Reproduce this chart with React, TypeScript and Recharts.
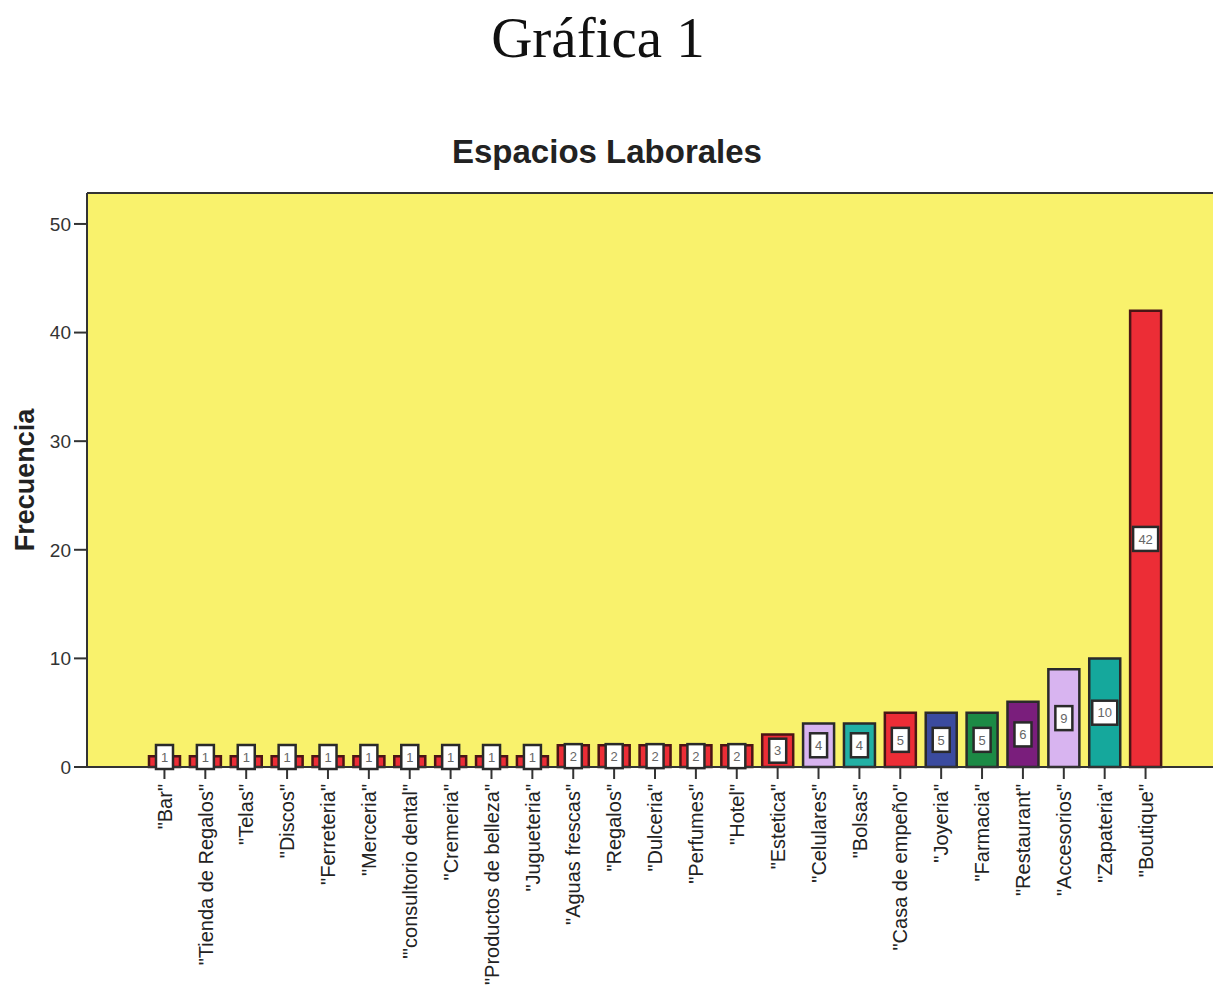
import { BarChart, Bar, XAxis, YAxis, Cell, CartesianGrid, LabelList, ReferenceLine } from "recharts";

const categories = [
  '"Bar"',
  '"Tienda de Regalos"',
  '"Telas"',
  '"Discos"',
  '"Ferreteria"',
  '"Merceria"',
  '"\'consultorio dental"',
  '"Cremeria"',
  '"Productos de belleza"',
  '"Jugueteria"',
  '"Aguas frescas"',
  '"Regalos"',
  '"Dulceria"',
  '"Perfumes"',
  '"Hotel"',
  '"Estetica"',
  '"Celulares"',
  '"Bolsas"',
  '"Casa de empeño"',
  '"Joyeria"',
  '"Farmacia"',
  '"Restaurant"',
  '"Accesorios"',
  '"Zapateria"',
  '"Boutique"',
];

const frequencies = [1, 1, 1, 1, 1, 1, 1, 1, 1, 1, 2, 2, 2, 2, 2, 3, 4, 4, 5, 5, 5, 6, 9, 10, 42];

const barColors = [
  "#ec2d36", "#ec2d36", "#ec2d36", "#ec2d36", "#ec2d36",
  "#ec2d36", "#ec2d36", "#ec2d36", "#ec2d36", "#ec2d36",
  "#ec2d36", "#ec2d36", "#ec2d36", "#ec2d36", "#ec2d36",
  "#ec2d36", "#d8b4f0", "#22b0a4", "#ec2d36", "#3b4b9f",
  "#1c8a45", "#7a1e7c", "#d8b4f0", "#15a89c", "#ec2d36",
];

const yTicks = [0, 10, 20, 30, 40, 50];
const Y_MAX = 52.85;

const data = categories.map((name, i) => ({ name, value: frequencies[i], color: barColors[i] }));

const FONT = "'Liberation Sans', Arial, sans-serif";
const AXIS_Y = 767;

const CategoryTick = ({ x, y, payload }: any) => (
  <text
    transform={`translate(${x},${y}) rotate(-90)`}
    textAnchor="end"
    dy="0.36em"
    fontSize={20}
    fontFamily={FONT}
    fill="#222"
  >
    {payload.value}
  </text>
);

// white boxed count sitting in the middle of each bar
const ValueBox = ({ x, y, width, height, value }: any) => {
  const cx = x + width / 2;
  const digits = String(value).length;
  const w = 9 + digits * 8;
  const h = 24;
  const top = Math.min(y + height / 2 - h / 2, AXIS_Y - h + 2);
  return (
    <g>
      <rect x={cx - w / 2} y={top} width={w} height={h} fill="#fff" stroke="#2a2a2a" strokeWidth={2.5} />
      <text
        x={cx}
        y={top + h / 2}
        dy="0.36em"
        textAnchor="middle"
        fontSize={13}
        fontFamily={FONT}
        fill="#666"
      >
        {value}
      </text>
    </g>
  );
};

export default function App() {
  return (
    <div style={{ position: "absolute", left: 0, top: 0, width: 1213, height: 995, background: "#fff", overflow: "hidden" }}>
      <BarChart
        width={1213}
        height={995}
        data={data}
        margin={{ top: 193, right: 0, bottom: 0, left: 0 }}
        barSize={31}
      >
        <CartesianGrid horizontal={false} vertical={false} fill="#f9f26c" />
        <ReferenceLine y={Y_MAX} stroke="#333" strokeWidth={2} ifOverflow="visible" />
        <XAxis
          dataKey="name"
          interval={0}
          height={228}
          padding={{ left: 57, right: 47 }}
          axisLine={{ stroke: "#333", strokeWidth: 2 }}
          tickLine={{ stroke: "#333", strokeWidth: 2 }}
          tickSize={12}
          tickMargin={5}
          tick={<CategoryTick />}
        />
        <YAxis
          width={87}
          domain={[0, Y_MAX]}
          ticks={yTicks}
          axisLine={{ stroke: "#333", strokeWidth: 2 }}
          tickLine={{ stroke: "#333", strokeWidth: 2 }}
          tickSize={13}
          tickMargin={3}
          tick={{ fontSize: 19, fontFamily: FONT, fill: "#333" }}
          label={{
            content: () => (
              <text
                transform="translate(34,480) rotate(-90)"
                textAnchor="middle"
                fontSize={27}
                fontWeight="bold"
                fontFamily={FONT}
                fill="#222"
              >
                Frecuencia
              </text>
            ),
          }}
        />
        <Bar dataKey="value" stroke="#3a1a1a" strokeWidth={2.5} isAnimationActive={false}>
          {data.map((d, i) => (
            <Cell key={`cell-${i}`} fill={d.color} stroke={d.color === "#ec2d36" ? "#4a1515" : "#2a2a2a"} />
          ))}
          <LabelList dataKey="value" content={<ValueBox />} />
        </Bar>
      </BarChart>
      <svg width={1213} height={200} style={{ position: "absolute", left: 0, top: 0, pointerEvents: "none" }}>
        <text x={598} y={57} textAnchor="middle" fontSize={57} fontFamily="'Liberation Serif', 'Times New Roman', serif" fill="#111">
          Gráfica 1
        </text>
        <text x={607} y={163} textAnchor="middle" fontSize={33} fontWeight="bold" fontFamily={FONT} fill="#222">
          Espacios Laborales
        </text>
      </svg>
    </div>
  );
}
